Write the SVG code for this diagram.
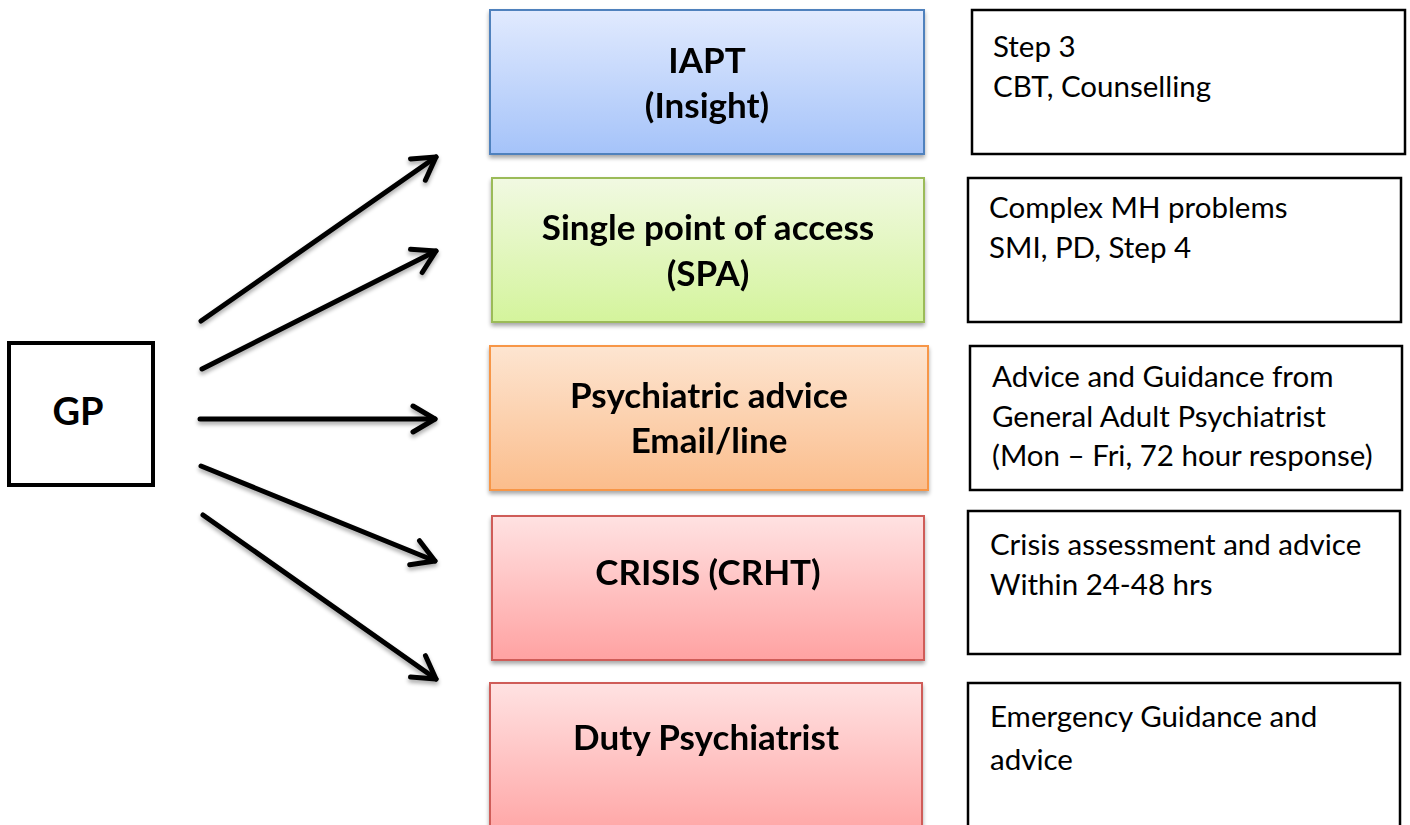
<svg xmlns="http://www.w3.org/2000/svg" width="1410" height="825" viewBox="0 0 1410 825">
<defs>
<linearGradient id="gBlue" x1="0" y1="0" x2="0" y2="1"><stop offset="0" stop-color="#e1eafe"/><stop offset="1" stop-color="#a5c3f9"/></linearGradient>
<linearGradient id="gGreen" x1="0" y1="0" x2="0" y2="1"><stop offset="0" stop-color="#f1f9e2"/><stop offset="1" stop-color="#d4f49c"/></linearGradient>
<linearGradient id="gOrange" x1="0" y1="0" x2="0" y2="1"><stop offset="0" stop-color="#fde5d1"/><stop offset="1" stop-color="#fbbd8c"/></linearGradient>
<linearGradient id="gRed" x1="0" y1="0" x2="0" y2="1"><stop offset="0" stop-color="#ffe2e2"/><stop offset="1" stop-color="#ffa2a2"/></linearGradient>
<filter id="sh" x="-10%" y="-10%" width="120%" height="130%">
<feGaussianBlur in="SourceAlpha" stdDeviation="2"/>
<feOffset dx="0" dy="3" result="b"/>
<feComponentTransfer><feFuncA type="linear" slope="0.35"/></feComponentTransfer>
<feMerge><feMergeNode/><feMergeNode in="SourceGraphic"/></feMerge>
</filter>
<marker id="ah" markerUnits="userSpaceOnUse" viewBox="-30 -20 40 40" markerWidth="40" markerHeight="40" refX="0" refY="0" orient="auto">
<path d="M -22 -13 L 0 0 L -22 13" fill="none" stroke="#000" stroke-width="5" stroke-linecap="round" stroke-linejoin="round"/>
</marker>
</defs>
<style>
.bold{font-family:Lato,"Liberation Sans",sans-serif;font-weight:bold;font-size:35px;fill:#000;text-anchor:middle}
.reg{font-family:Lato,"Liberation Sans",sans-serif;font-size:29.5px;fill:#000}
.desc{fill:#fff;stroke:#000;stroke-width:2.5}
.conn line{stroke:#000;stroke-width:5;stroke-linecap:round;marker-end:url(#ah)}
</style>
<rect width="1410" height="825" fill="#fff"/>

<g id="gp">
<rect x="9" y="343" width="144" height="142" fill="#fff" stroke="#000" stroke-width="4"/>
<text class="bold" x="78" y="425" style="font-size:38px">GP</text>
</g>

<g id="connectors" class="conn" filter="url(#sh)">
<line x1="201" y1="321" x2="436" y2="157"/>
<line x1="202" y1="369" x2="436" y2="251"/>
<line x1="200" y1="419" x2="435" y2="419"/>
<line x1="201" y1="466" x2="435" y2="561"/>
<line x1="203" y1="515" x2="436" y2="679"/>
</g>

<g id="iapt" filter="url(#sh)">
<rect x="490" y="10" width="434" height="144" fill="url(#gBlue)" stroke="#4f81bd" stroke-width="2"/>
<text class="bold" x="707" y="73">IAPT</text>
<text class="bold" x="707" y="118">(Insight)</text>
</g>
<g id="spa" filter="url(#sh)">
<rect x="492" y="178" width="432" height="144" fill="url(#gGreen)" stroke="#9bbb59" stroke-width="2"/>
<text class="bold" x="708" y="240">Single point of access</text>
<text class="bold" x="708" y="286">(SPA)</text>
</g>
<g id="psych" filter="url(#sh)">
<rect x="490" y="346" width="438" height="144" fill="url(#gOrange)" stroke="#f79646" stroke-width="2"/>
<text class="bold" x="709" y="408">Psychiatric advice</text>
<text class="bold" x="709" y="453">Email/line</text>
</g>
<g id="crisis" filter="url(#sh)">
<rect x="492" y="516" width="432" height="144" fill="url(#gRed)" stroke="#cf5b58" stroke-width="2"/>
<text class="bold" x="708" y="585">CRISIS (CRHT)</text>
</g>
<g id="duty" filter="url(#sh)">
<rect x="490" y="683" width="432" height="160" fill="url(#gRed)" stroke="#cf5b58" stroke-width="2"/>
<text class="bold" x="706" y="750">Duty Psychiatrist</text>
</g>

<g id="d-iapt">
<rect class="desc" x="972" y="10" width="433" height="144"/>
<text class="reg" x="993" y="57">Step 3</text>
<text class="reg" x="993" y="97">CBT, Counselling</text>
</g>
<g id="d-spa">
<rect class="desc" x="968" y="178" width="433" height="144"/>
<text class="reg" x="989" y="218">Complex MH problems</text>
<text class="reg" x="989" y="258">SMI, PD, Step 4</text>
</g>
<g id="d-psych">
<rect class="desc" x="970" y="346" width="432" height="144"/>
<text class="reg" x="992" y="387">Advice and Guidance from</text>
<text class="reg" x="992" y="427">General Adult Psychiatrist</text>
<text class="reg" x="992" y="466">(Mon – Fri, 72 hour response)</text>
</g>
<g id="d-crisis">
<rect class="desc" x="968" y="511" width="432" height="143"/>
<text class="reg" x="990" y="555">Crisis assessment and advice</text>
<text class="reg" x="990" y="595">Within 24-48 hrs</text>
</g>
<g id="d-duty">
<rect class="desc" x="968" y="683" width="432" height="160"/>
<text class="reg" x="990" y="727">Emergency Guidance and</text>
<text class="reg" x="990" y="770">advice</text>
</g>
</svg>
